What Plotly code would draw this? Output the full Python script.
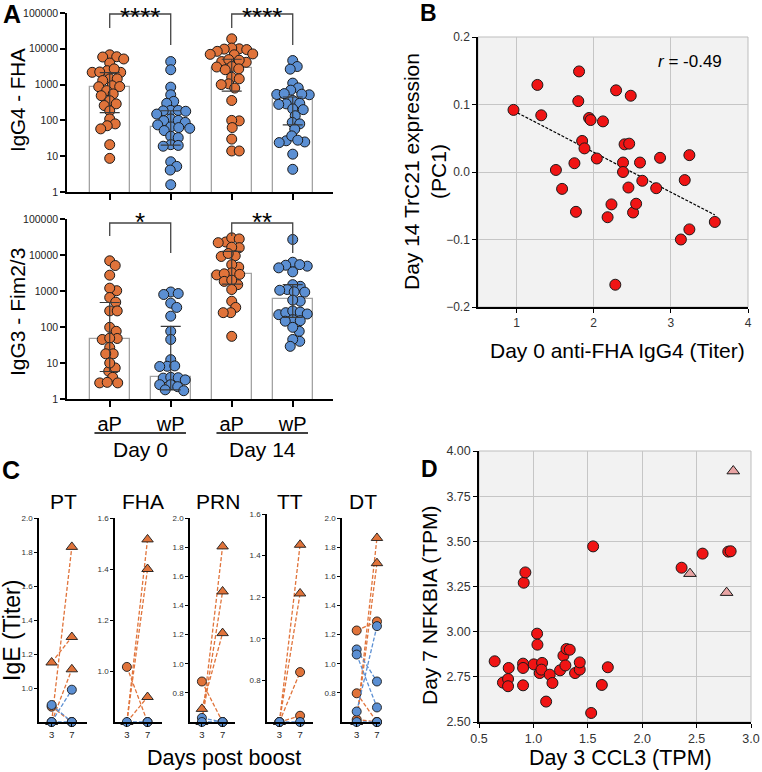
import numpy as np
import plotly.graph_objects as go

W, H = 762, 772
FONT = "Liberation Sans, Arial, Helvetica, sans-serif"
ORANGE = "#e0733a"
BLUE = "#5b8fd3"
RED = "#f01414"
PINK = "#e9a4a4"
EDGE = "#1a1a1a"

# ================= DATA =================
# ---- Panel A ----
A_categories = ["aP", "wP", "aP", "wP"]
A_day_labels = ["Day 0", "Day 14"]
A_tickvals = [1, 10, 100, 1000, 10000, 100000]
A_ticktext = ["1", "10", "100", "1000", "10000", "100000"]

igg4_aP_d0 = [6800, 5900, 6000, 5200, 4000, 2200, 2200, 2450, 2750, 2250, 1450, 1300, 1450, 930,
              880, 870, 680, 550, 490, 355, 290, 260, 185, 110, 80, 71, 58, 21, 8.7]
igg4_wP_d0 = [4400, 2600, 850, 520, 340, 300, 190, 190, 185, 180, 150, 110, 100, 98, 88, 75, 66,
              63, 60, 52, 36, 33, 21, 20, 19, 7, 5.2, 4.1, 1.6]
igg4_aP_d14 = [19000, 10000, 10500, 9500, 9800, 8500, 7200, 7000, 6800, 4200, 4400, 4800, 5000,
               3100, 3200, 2750, 2600, 1600, 1450, 1050, 1000, 800, 360, 97, 100, 63, 30, 14, 14]
igg4_wP_d14 = [4700, 3200, 2700, 1100, 810, 700, 530, 520, 540, 560, 360, 290, 300, 280, 210, 200,
               135, 88, 80, 57, 27, 24, 37, 25, 28, 11.4, 4.3]
igg4_bar = [870, 66, 2840, 400]
igg4_q3 = [2150, 186, 5100, 450]
igg4_q1 = [165, 20.5, 660, 75]
igg4_sig = ["****", "****"]

igg3_aP_d0 = [6900, 5100, 2750, 1020, 1200, 660, 490, 280, 280, 98, 76, 45, 48, 49, 27, 18, 18,
              5.9, 7.3, 10, 4, 2.8, 2.8, 2.9]
igg3_wP_d0 = [940, 800, 850, 460, 350, 200, 76, 45, 12.4, 8.1, 8.3, 8.0, 3.8, 4.0, 3.9, 3.4, 2.5,
              2.5, 2.2, 1.8, 1.7]
igg3_aP_d14 = [23000, 22000, 30000, 28000, 16000, 16500, 9100, 9500, 11000, 4600, 5400, 3200,
               2800, 2900, 3000, 1850, 1500, 2000, 1100, 520, 350, 250, 250, 55]
igg3_wP_d14 = [27000, 6300, 3400, 4900, 5400, 5200, 4400, 1350, 1500, 1100, 1050, 930, 950, 520,
               560, 220, 250, 280, 260, 230, 160, 145, 150, 76, 98, 40, 45, 29]
igg3_bar = [45, 4, 3000, 600]
igg3_q3 = [480, 104, 12600, 1500]
igg3_q1 = [5.8, 1.8, 1560, 185]
igg3_sig = ["*", "**"]

# ---- Panel B ----
b_x = [0.96, 1.27, 1.32, 1.81, 1.80, 1.51, 1.59, 1.75, 1.77, 1.85, 1.88, 1.94, 1.96, 2.12, 2.04,
       2.29, 2.48, 2.40, 2.46, 2.38, 2.38, 2.45, 2.60, 2.63, 2.23, 2.18, 2.51, 2.55, 2.28, 2.81,
       2.86, 3.24, 3.18, 3.24, 3.13, 3.57]
b_y = [0.092, 0.129, 0.084, 0.149, 0.105, 0.003, -0.025, 0.013, -0.059, 0.046, 0.035, 0.080,
       0.077, 0.075, 0.020, 0.121, 0.113, 0.041, 0.042, 0.014, 0.000, -0.023, 0.014, -0.013,
       -0.048, -0.067, -0.060, -0.047, -0.167, -0.024, 0.021, 0.025, -0.012, -0.085, -0.100,
       -0.074]
b_r_label = "<i>r</i> = -0.49"

# ---- Panel C ----
C_titles = ["PT", "FHA", "PRN", "TT", "DT"]
C_days = [3, 7]
pt_d3 = [1.15, 0.80, 0.80, 0.89, 0.90, 0.80, 0.80]
pt_d7 = [1.30, 1.83, 1.11, 0.80, 0.80, 0.99, 0.80]
pt_cohort = ["aP", "aP", "aP", "aP", "wP", "wP", "wP"]
pt_shape = ["tri", "tri", "tri", "circ", "circ", "circ", "circ"]

fha_d3 = [0.80, 0.80, 0.80, 1.016, 0.80]
fha_d7 = [1.516, 1.40, 0.898, 0.80, 0.80]
fha_cohort = ["aP", "aP", "aP", "aP", "wP"]
fha_shape = ["tri", "tri", "tri", "circ", "circ"]

prn_d3 = [0.60, 0.60, 0.69, 0.878, 0.628, 0.60]
prn_d7 = [1.805, 1.496, 1.21, 0.60, 0.60, 0.60]
prn_cohort = ["aP", "aP", "aP", "aP", "wP", "wP"]
prn_shape = ["tri", "tri", "tri", "circ", "circ", "circ"]

tt_d3 = [0.60, 0.60, 0.60, 0.60, 0.60]
tt_d7 = [1.452, 1.218, 0.84, 0.63, 0.60]
tt_cohort = ["aP", "aP", "aP", "aP", "wP"]
tt_shape = ["tri", "tri", "circ", "circ", "circ"]

dt_d3 = [0.60, 0.60, 1.228, 0.797, 0.617, 1.098, 1.063, 0.672, 0.60]
dt_d7 = [1.863, 1.69, 1.29, 0.60, 0.60, 0.878, 0.70, 1.258, 0.60]
dt_cohort = ["aP", "aP", "aP", "aP", "aP", "wP", "wP", "wP", "wP"]
dt_shape = ["tri", "tri", "circ", "circ", "circ", "circ", "circ", "circ", "circ"]

# ---- Panel D ----
d_circ_x = [0.644, 0.72, 0.767, 0.767, 0.773, 0.905, 0.905, 0.905, 0.911, 0.926, 1.003, 1.034,
            1.037, 1.058, 1.080, 1.074, 1.117, 1.150, 1.175, 1.245, 1.276, 1.294, 1.304, 1.334,
            1.383, 1.426, 1.426, 1.531, 1.549, 1.629, 1.684, 2.362, 2.555, 2.791, 2.813]
d_circ_y = [2.836, 2.718, 2.738, 2.698, 2.799, 2.823, 2.799, 2.703, 3.271, 3.328, 2.819, 2.989,
            2.928, 2.771, 2.827, 2.790, 2.613, 2.762, 2.716, 2.786, 2.867, 2.813, 2.904, 2.900,
            2.771, 2.790, 2.830, 2.550, 3.472, 2.705, 2.803, 3.354, 3.432, 3.443, 3.445]
d_tri_x = [2.837, 2.439, 2.776]
d_tri_y = [3.889, 3.321, 3.216]

# ================= HELPERS =================
def dx(a, b):
    return [a / W, b / W]

def dy(top, bottom):
    return [1 - bottom / H, 1 - top / H]

def py(y):
    return 1 - y / H

def swarm(values, px_per_dec, diam):
    y = np.log10(np.asarray(values, float)) * px_per_dec
    order = np.argsort(-y)
    cands = [0.0]
    for k in range(1, 80):
        cands += [0.5 * k, -0.5 * k]
    placed = []
    out = np.zeros(len(y))
    for i in order:
        for c in cands:
            if all((c - a) ** 2 + (y[i] - b) ** 2 >= diam ** 2 for a, b in placed):
                break
        placed.append((c, y[i]))
        out[i] = c
    return out

fig = go.Figure()

# ================= PANEL A =================
A_PX_UNIT = 61.0
A_PX_DEC = 35.8
panelA = [
    ("x", "y", [igg4_aP_d0, igg4_wP_d0, igg4_aP_d14, igg4_wP_d14], igg4_bar, igg4_q3, igg4_q1),
    ("x2", "y2", [igg3_aP_d0, igg3_wP_d0, igg3_aP_d14, igg3_wP_d14], igg3_bar, igg3_q3, igg3_q1),
]
pos = [1, 2, 3, 4]
for xa, ya, groups, bar, q3, q1 in panelA:
    fig.add_trace(go.Bar(x=pos, y=bar, width=0.66, xaxis=xa, yaxis=ya,
                         marker=dict(color="white", line=dict(color="#a3a3a3", width=1.3))))
    for gi, vals in enumerate(groups):
        offs = swarm(vals, A_PX_DEC, 7.2) / A_PX_UNIT
        col = ORANGE if A_categories[gi] == "aP" else BLUE
        fig.add_trace(go.Scatter(x=pos[gi] + offs, y=vals, mode="markers", xaxis=xa, yaxis=ya,
                                 cliponaxis=False,
                                 marker=dict(size=10, color=col, line=dict(color=EDGE, width=1))))
    b = np.array(bar, float)
    fig.add_trace(go.Scatter(x=pos, y=bar, mode="markers", xaxis=xa, yaxis=ya,
                             marker=dict(size=1, color="rgba(0,0,0,0)"),
                             error_y=dict(type="data", symmetric=False,
                                          array=list(np.array(q3) - b),
                                          arrayminus=list(b - np.array(q1)),
                                          color="#3a3a3a", thickness=1.2, width=10)))

axA_common = dict(showgrid=False, zeroline=False, showline=True, linecolor="black", linewidth=1.5,
                  ticks="outside", tickcolor="black", tickwidth=1.5, automargin=False)
fig.update_layout(
    xaxis=dict(domain=dx(67, 333), range=[0.3, 4.66], tickvals=pos, showticklabels=False,
               ticklen=6, anchor="y", **axA_common),
    yaxis=dict(domain=dy(13, 192), type="log", range=[0, 5], tickvals=A_tickvals,
               ticktext=A_ticktext, ticklen=5, anchor="x",
               tickfont=dict(size=10.5, color="#222"), **axA_common),
    xaxis2=dict(domain=dx(67, 333), range=[0.3, 4.66], tickvals=pos, ticktext=A_categories,
                ticklen=6, anchor="y2", tickfont=dict(size=20, color="black"), **axA_common),
    yaxis2=dict(domain=dy(219, 399), type="log", range=[0, 5], tickvals=A_tickvals,
                ticktext=A_ticktext, ticklen=5, anchor="x2",
                tickfont=dict(size=10.5, color="#222"), **axA_common),
)

shapes = []
annotations = []

def bracket(xref, x0, x1, ytop, yleft, yright):
    shapes.append(dict(type="path", xref=xref, yref="paper",
                       path=f"M {x0},{py(yleft)} L {x0},{py(ytop)} L {x1},{py(ytop)} L {x1},{py(yright)}",
                       line=dict(color="#444", width=1.3)))

for k, s in enumerate(igg4_sig):
    x0, x1 = pos[2 * k], pos[2 * k + 1]
    bracket("x", x0, x1, 14, 28, 45)
    annotations.append(dict(x=(x0 + x1) / 2, y=py(0), xref="x", yref="paper", text=s,
                            showarrow=False, font=dict(size=26, color="black"),
                            xanchor="center", yanchor="top"))
for k, s in enumerate(igg3_sig):
    x0, x1 = pos[2 * k], pos[2 * k + 1]
    bracket("x2", x0, x1, 223, 236, 253)
    annotations.append(dict(x=(x0 + x1) / 2, y=py(222), xref="x2", yref="paper", text=s,
                            showarrow=False, font=dict(size=26, color="black"),
                            xanchor="center", yanchor="middle"))

# day group lines and labels
for k, lab in enumerate(A_day_labels):
    x0, x1 = pos[2 * k] - 0.25, pos[2 * k + 1] + 0.25
    shapes.append(dict(type="line", xref="x2", yref="paper", x0=x0, x1=x1, y0=py(433), y1=py(433),
                       line=dict(color="black", width=1.5)))
    annotations.append(dict(x=(pos[2 * k] + pos[2 * k + 1]) / 2, y=py(450), xref="x2", yref="paper",
                            text=lab, showarrow=False, font=dict(size=21, color="black"),
                            xanchor="center", yanchor="middle"))

annotations.append(dict(x=17 / W, y=py(100), xref="paper", yref="paper", text="IgG4 - FHA",
                        textangle=-90, showarrow=False, font=dict(size=20.5, color="black"),
                        xanchor="center", yanchor="middle"))
annotations.append(dict(x=17 / W, y=py(312), xref="paper", yref="paper", text="IgG3 - Fim2/3",
                        textangle=-90, showarrow=False, font=dict(size=21, color="black"),
                        xanchor="center", yanchor="middle"))

# ================= PANEL B =================
bx = np.array(b_x)
byv = np.array(b_y)
coef = np.polyfit(bx, byv, 1)
xl = np.array([bx.min(), bx.max()])
fig.add_trace(go.Scatter(x=xl, y=np.polyval(coef, xl), mode="lines", xaxis="x3", yaxis="y3",
                         line=dict(color="black", width=1.2, dash="3px,1.5px")))
fig.add_trace(go.Scatter(x=b_x, y=b_y, mode="markers", xaxis="x3", yaxis="y3", cliponaxis=False,
                         marker=dict(size=11, color=RED, line=dict(color=EDGE, width=1))))

grid_common = dict(showgrid=True, gridcolor="#c6c6c6", gridwidth=1, zeroline=False, showline=True,
                   linecolor="black", linewidth=1.5, ticks="outside", tickcolor="black",
                   tickwidth=1.2, ticklen=4, automargin=False)
fig.update_layout(
    xaxis3=dict(domain=dx(478, 748), range=[0.5, 4.0], tickvals=[1, 2, 3, 4], anchor="y3",
                tickfont=dict(size=12, color="#333"), **grid_common),
    yaxis3=dict(domain=dy(37, 307), range=[-0.2, 0.2], tickvals=[-0.2, -0.1, 0.0, 0.1, 0.2],
                tickformat=".1f", anchor="x3", tickfont=dict(size=12, color="#333"), **grid_common),
)
shapes.append(dict(type="rect", xref="x3 domain", yref="y3 domain", x0=0, x1=1, y0=0, y1=1,
                   fillcolor="#f2f2f2", line=dict(color="#bdbdbd", width=1), layer="below"))
annotations.append(dict(x=690 / W, y=py(62), xref="paper", yref="paper", text=b_r_label,
                        showarrow=False, font=dict(size=17, color="black"),
                        xanchor="center", yanchor="middle"))
annotations.append(dict(x=425 / W, y=py(172), xref="paper", yref="paper",
                        text="Day 14 TrC21 expression<br>(PC1)", textangle=-90, showarrow=False,
                        font=dict(size=21, color="black"), xanchor="center", yanchor="middle"))
annotations.append(dict(x=617 / W, y=py(350), xref="paper", yref="paper",
                        text="Day 0 anti-FHA IgG4 (Titer)", showarrow=False,
                        font=dict(size=21, color="black"), xanchor="center", yanchor="middle"))

# ================= PANEL C =================
C_sets = [
    (pt_d3, pt_d7, pt_cohort, pt_shape),
    (fha_d3, fha_d7, fha_cohort, fha_shape),
    (prn_d3, prn_d7, prn_cohort, prn_shape),
    (tt_d3, tt_d7, tt_cohort, tt_shape),
    (dt_d3, dt_d7, dt_cohort, dt_shape),
]
C_dom_x = [(39, 87), (115, 162), (190, 235), (267, 313), (342, 380)]
C_dom_top = [518, 518, 518, 514, 518]
C_xrange = [[0.5, 10.0], [0.7, 9.8], [0.7, 9.4], [0.6, 9.5], [0.1, 7.6]]
C_yrange = [[0.8, 2.0], [0.8, 1.6], [0.6, 2.0], [0.6, 1.6], [0.6, 2.0]]
C_yticks = [[1.0, 1.2, 1.4, 1.6, 1.8, 2.0], [1.0, 1.2, 1.4, 1.6],
            [0.8, 1.0, 1.2, 1.4, 1.6, 1.8, 2.0], [0.8, 1.0, 1.2, 1.4, 1.6],
            [0.8, 1.0, 1.2, 1.4, 1.6, 1.8, 2.0]]
C_title_x = [63, 143, 218, 290, 363]

for k, (d3, d7, coh, shp) in enumerate(C_sets):
    xa, ya = f"x{4 + k}", f"y{4 + k}"
    idx = [i for i in range(len(d3)) if coh[i] == "aP"] + [i for i in range(len(d3)) if coh[i] == "wP"]
    for i in idx:
        col = ORANGE if coh[i] == "aP" else BLUE
        sym = "triangle-up" if shp[i] == "tri" else "circle"
        fig.add_trace(go.Scatter(x=C_days, y=[d3[i], d7[i]], mode="lines+markers", xaxis=xa,
                                 yaxis=ya, cliponaxis=False,
                                 line=dict(color=col, width=1.3, dash="4px,2px"),
                                 marker=dict(symbol=sym, size=9 if sym == "circle" else 10,
                                             color=col, line=dict(color=EDGE, width=0.9))))
    axc = dict(showgrid=False, zeroline=False, showline=True, linecolor="black", linewidth=1.5,
               ticks="outside", tickcolor="black", tickwidth=1, ticklen=3, automargin=False)
    fig.layout[f"xaxis{4 + k}"] = dict(domain=dx(*C_dom_x[k]), range=C_xrange[k], tickvals=C_days,
                                       anchor=ya, tickfont=dict(size=9.5, color="#222"), **axc)
    fig.layout[f"yaxis{4 + k}"] = dict(domain=dy(C_dom_top[k], 722), range=C_yrange[k],
                                       tickvals=C_yticks[k], tickformat=".1f", anchor=xa,
                                       tickfont=dict(size=8, color="#333"), **axc)
    annotations.append(dict(x=C_title_x[k] / W, y=py(501), xref="paper", yref="paper",
                            text=C_titles[k], showarrow=False, font=dict(size=21, color="black"),
                            xanchor="center", yanchor="middle"))

annotations.append(dict(x=12 / W, y=py(631), xref="paper", yref="paper", text="IgE (Titer)",
                        textangle=-90, showarrow=False, font=dict(size=23, color="black"),
                        xanchor="center", yanchor="middle"))
annotations.append(dict(x=224 / W, y=py(758), xref="paper", yref="paper", text="Days post boost",
                        showarrow=False, font=dict(size=21.5, color="black"),
                        xanchor="center", yanchor="middle"))

# ================= PANEL D =================
fig.add_trace(go.Scatter(x=d_circ_x, y=d_circ_y, mode="markers", xaxis="x9", yaxis="y9",
                         cliponaxis=False,
                         marker=dict(size=11, color=RED, line=dict(color=EDGE, width=1))))
fig.add_trace(go.Scatter(x=d_tri_x, y=d_tri_y, mode="markers", xaxis="x9", yaxis="y9",
                         cliponaxis=False,
                         marker=dict(symbol="triangle-up", size=11, color=PINK,
                                     line=dict(color=EDGE, width=1))))
fig.update_layout(
    xaxis9=dict(domain=dx(479, 751), range=[0.5, 3.0], tickvals=[0.5, 1.0, 1.5, 2.0, 2.5, 3.0],
                tickformat=".1f", anchor="y9", tickfont=dict(size=12.5, color="#333"),
                **grid_common),
    yaxis9=dict(domain=dy(451, 722), range=[2.5, 4.0],
                tickvals=[2.5, 2.75, 3.0, 3.25, 3.5, 3.75, 4.0], tickformat=".2f", anchor="x9",
                tickfont=dict(size=12.5, color="#333"), **grid_common),
)
shapes.append(dict(type="rect", xref="x9 domain", yref="y9 domain", x0=0, x1=1, y0=0, y1=1,
                   fillcolor="#f2f2f2", line=dict(color="#bdbdbd", width=1), layer="below"))
annotations.append(dict(x=429 / W, y=py(605), xref="paper", yref="paper",
                        text="Day 7 NFKBIA (TPM)", textangle=-90, showarrow=False,
                        font=dict(size=21, color="black"), xanchor="center", yanchor="middle"))
annotations.append(dict(x=620 / W, y=py(758), xref="paper", yref="paper",
                        text="Day 3 CCL3 (TPM)", showarrow=False,
                        font=dict(size=21.5, color="black"), xanchor="center", yanchor="middle"))

# ================= PANEL LETTERS =================
for letter, x, y, s in [("A", 12, 14, 25), ("B", 428, 13, 23), ("C", 11, 470, 25), ("D", 429, 469, 23)]:
    annotations.append(dict(x=x / W, y=py(y), xref="paper", yref="paper", text=f"<b>{letter}</b>",
                            showarrow=False, font=dict(size=s, color="black"),
                            xanchor="center", yanchor="middle"))

fig.update_layout(width=W, height=H, margin=dict(l=0, r=0, t=0, b=0, pad=0, autoexpand=False),
                  showlegend=False, paper_bgcolor="white", plot_bgcolor="white",
                  font=dict(family=FONT), shapes=shapes, annotations=annotations, bargap=0)

fig.write_html("out.html", config={"displayModeBar": False},
               post_script="document.body.style.margin='0';document.body.style.padding='0';")
